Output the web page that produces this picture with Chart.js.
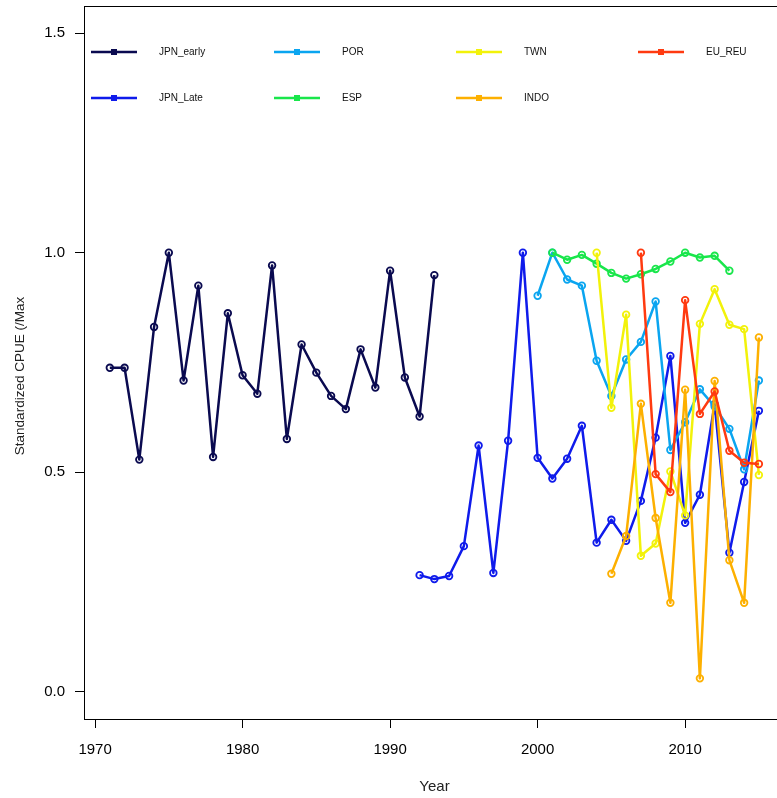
<!DOCTYPE html>
<html>
<head>
<meta charset="utf-8">
<script src="https://cdn.jsdelivr.net/npm/chart.js@4/dist/chart.umd.min.js"></script>
<style>
    html, body { margin: 0; padding: 0; background: #fff; overflow: hidden; }
    #wrap { width: 800px; height: 798px; }
</style>
</head>
<body>
<div id="wrap"><canvas id="cpueChart" width="800" height="798"></canvas></div>
<script>
// series
const seriesNames = ['JPN_early', 'JPN_Late', 'POR', 'ESP', 'TWN', 'INDO', 'EU_REU'];
const seriesColors = ['#0A0A50', '#0F1BEB', '#0AA5F0', '#19E64B', '#F2F20A', '#FDB000', '#FF3A10'];

const yearsEarly = [1971, 1972, 1973, 1974, 1975, 1976, 1977, 1978, 1979, 1980, 1981, 1982,
    1983, 1984, 1985, 1986, 1987, 1988, 1989, 1990, 1991, 1992, 1993];
const jpnEarly = [0.738, 0.738, 0.529, 0.831, 1.000, 0.709, 0.925, 0.535, 0.862, 0.721, 0.679, 0.971,
    0.576, 0.791, 0.727, 0.674, 0.644, 0.780, 0.693, 0.959, 0.716, 0.627, 0.949];

const yearsLate = [1992, 1993, 1994, 1995, 1996, 1997, 1998, 1999, 2000, 2001, 2002, 2003,
    2004, 2005, 2006, 2007, 2008, 2009, 2010, 2011, 2012, 2013, 2014, 2015];
const jpnLate = [0.266, 0.257, 0.264, 0.332, 0.561, 0.271, 0.572, 1.000, 0.533, 0.486, 0.531, 0.606,
    0.340, 0.392, 0.344, 0.435, 0.579, 0.765, 0.385, 0.449, 0.655, 0.317, 0.478, 0.640];

const yearsPor = [2000, 2001, 2002, 2003, 2004, 2005, 2006, 2007, 2008, 2009, 2010, 2011, 2012, 2013, 2014, 2015];
const por = [0.902, 1.000, 0.939, 0.925, 0.754, 0.674, 0.757, 0.797, 0.889, 0.551, 0.614, 0.689, 0.650, 0.599, 0.507, 0.709];

const yearsEsp = [2001, 2002, 2003, 2004, 2005, 2006, 2007, 2008, 2009, 2010, 2011, 2012, 2013];
const esp = [1.000, 0.984, 0.995, 0.975, 0.954, 0.941, 0.951, 0.963, 0.980, 1.000, 0.989, 0.993, 0.959];

const yearsTwn = [2004, 2005, 2006, 2007, 2008, 2009, 2010, 2011, 2012, 2013, 2014, 2015];
const twn = [1.000, 0.647, 0.859, 0.310, 0.338, 0.502, 0.402, 0.838, 0.917, 0.836, 0.826, 0.494];

const yearsIndo = [2005, 2006, 2007, 2008, 2009, 2010, 2011, 2012, 2013, 2014, 2015];
const indo = [0.269, 0.355, 0.656, 0.396, 0.203, 0.688, 0.031, 0.708, 0.300, 0.203, 0.807];

const yearsEu = [2007, 2008, 2009, 2010, 2011, 2012, 2013, 2014, 2015];
const euReu = [1.000, 0.496, 0.455, 0.892, 0.633, 0.684, 0.549, 0.522, 0.519];

const xTicks = [1970, 1980, 1990, 2000, 2010];
const yTicks = [0.0, 0.5, 1.0, 1.5];

const seriesYears = [yearsEarly, yearsLate, yearsPor, yearsEsp, yearsTwn, yearsIndo, yearsEu];
const seriesValues = [jpnEarly, jpnLate, por, esp, twn, indo, euReu];

Chart.defaults.font.family = '"Liberation Sans", Arial, sans-serif';
Chart.defaults.color = '#000';

const datasets = seriesNames.map((name, i) => ({
    label: name,
    data: seriesYears[i].map((yr, j) => ({x: yr, y: seriesValues[i][j]})),
    borderColor: seriesColors[i],
    backgroundColor: seriesColors[i],
    borderWidth: 2.5,
    borderJoinStyle: 'round',
    pointRadius: 3.3,
    pointBorderWidth: 1.8,
    pointBackgroundColor: 'rgba(255,255,255,0)',
    pointBorderColor: seriesColors[i],
    tension: 0,
    order: seriesNames.length - i
}));

// box round the plot region
const frame = {
    id: 'frame',
    afterDraw(chart) {
        const {ctx, chartArea: a} = chart;
        ctx.save();
        ctx.strokeStyle = '#000';
        ctx.lineWidth = 1;
        ctx.strokeRect(Math.round(a.left) + 0.5, Math.round(a.top) + 0.5,
            Math.round(a.right - a.left), Math.round(a.bottom - a.top));
        ctx.restore();
    }
};

// axis titles
const axisTitles = {
    id: 'axisTitles',
    afterDraw(chart) {
        const {ctx, chartArea: a} = chart;
        ctx.save();
        ctx.fillStyle = '#222';
        ctx.textAlign = 'center';
        ctx.textBaseline = 'middle';
        ctx.font = '15px "Liberation Sans", Arial, sans-serif';
        ctx.fillText('Year', (a.left + a.right) / 2, 787);
        ctx.translate(20, 376);
        ctx.rotate(-Math.PI / 2);
        ctx.font = '13.5px "Liberation Sans", Arial, sans-serif';
        ctx.fillText('Standardized CPUE (/Max', 0, 0);
        ctx.restore();
    }
};

// legend laid out in two rows inside the plot
const gridLegend = {
    id: 'gridLegend',
    afterDraw(chart) {
        const ctx = chart.ctx;
        const colX = [91, 274, 456, 638];
        const rowY = [52, 98];
        ctx.save();
        ctx.font = '10px "Liberation Sans", Arial, sans-serif';
        ctx.textBaseline = 'middle';
        ctx.textAlign = 'left';
        seriesNames.forEach((name, i) => {
            const x = colX[Math.floor(i / 2)];
            const y = rowY[i % 2];
            ctx.strokeStyle = seriesColors[i];
            ctx.lineWidth = 2.5;
            ctx.beginPath();
            ctx.moveTo(x, y);
            ctx.lineTo(x + 46, y);
            ctx.stroke();
            ctx.fillStyle = seriesColors[i];
            ctx.fillRect(x + 23 - 3, y - 3, 6, 6);
            ctx.fillStyle = '#111';
            ctx.fillText(name, x + 68, y);
        });
        ctx.restore();
    }
};

const chart = new Chart(document.getElementById('cpueChart'), {
    type: 'line',
    data: {datasets: datasets},
    options: {
        responsive: false,
        animation: false,
        layout: {padding: {top: 6, right: 15, left: 0, bottom: 0}},
        plugins: {
            legend: {display: false},
            tooltip: {enabled: false}
        },
        scales: {
            x: {
                type: 'linear',
                min: 1969.25,
                max: 2016.77,
                afterBuildTicks: s => { s.ticks = xTicks.map(v => ({value: v})); },
                afterFit: s => { s.height = 79; s.paddingLeft = 0; s.paddingRight = 0; },
                ticks: {
                    color: '#000',
                    font: {size: 15},
                    padding: 13,
                    maxRotation: 0,
                    autoSkip: false,
                    callback: v => String(v)
                },
                grid: {display: true, drawOnChartArea: false, drawTicks: true, tickLength: 9, color: '#000', lineWidth: 1},
                border: {display: true, color: '#000', width: 1}
            },
            y: {
                type: 'linear',
                min: -0.0615,
                max: 1.5616,
                afterBuildTicks: s => { s.ticks = yTicks.map(v => ({value: v})); },
                afterFit: s => { s.width = 84; s.paddingTop = 0; s.paddingBottom = 0; },
                ticks: {
                    color: '#000',
                    font: {size: 15},
                    padding: 10,
                    autoSkip: false,
                    callback: v => v.toFixed(1)
                },
                grid: {display: true, drawOnChartArea: false, drawTicks: true, tickLength: 9, color: '#000', lineWidth: 1},
                border: {display: true, color: '#000', width: 1}
            }
        }
    },
    plugins: [frame, axisTitles, gridLegend]
});
</script>
</body>
</html>
